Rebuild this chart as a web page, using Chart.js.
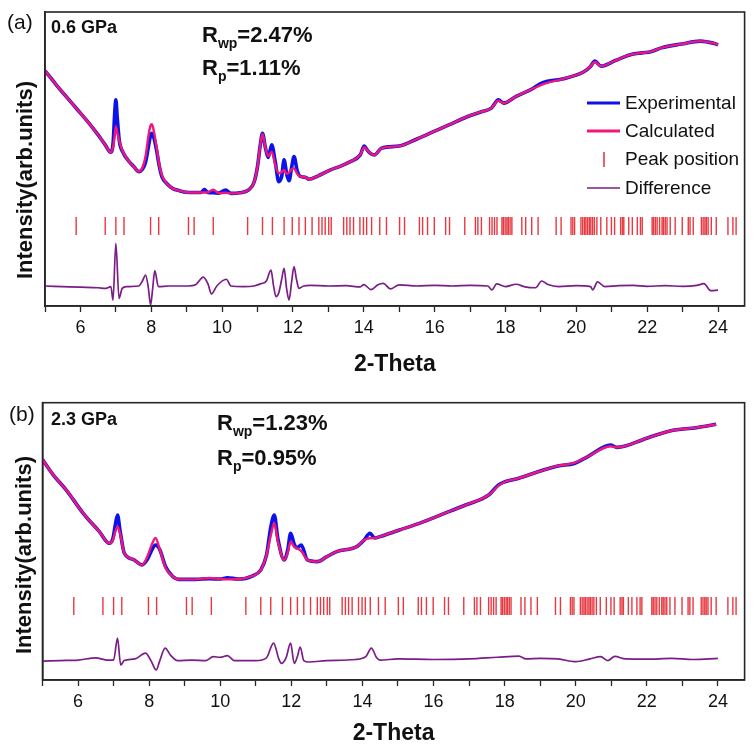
<!DOCTYPE html>
<html>
<head>
<meta charset="utf-8">
<script src="https://cdn.jsdelivr.net/npm/chart.js@4/dist/chart.umd.min.js"></script>
<style>
  body { margin: 0; background: #fff; width: 755px; height: 747px; position: relative; overflow: hidden; }
  .panel { position: absolute; left: 0; }
</style>
</head>
<body>
<div class="panel" style="top:0"><canvas id="chartA" width="755" height="378"></canvas></div>
<div class="panel" style="top:378px"><canvas id="chartB" width="755" height="369"></canvas></div>
<script>
// ---- panel (a), 0.6 GPa ----
const aTheta = [5.0, 5.3, 5.6, 5.9, 6.2, 6.5, 6.7, 6.85, 6.92, 6.97, 7.0, 7.04, 7.1, 7.2, 7.35, 7.5, 7.65, 7.75, 7.84, 7.91, 7.97, 8.02, 8.08, 8.15, 8.22, 8.3, 8.45, 8.6, 8.8, 9.0, 9.4, 9.5, 9.6, 9.75, 9.9, 10.1, 10.25, 10.5, 10.75, 10.9, 11.0, 11.08, 11.14, 11.22, 11.3, 11.4, 11.5, 11.6, 11.68, 11.75, 11.82, 11.89, 11.96, 12.03, 12.12, 12.22, 12.35, 12.45, 12.7, 13.06, 13.35, 13.62, 13.9, 14.01, 14.1, 14.2, 14.3, 14.5, 15.0, 15.5, 15.95, 16.4, 16.9, 17.3, 17.6, 17.8, 17.95, 18.3, 18.7, 19.05, 19.6, 20.2, 20.4, 20.52, 20.7, 21.1, 21.5, 21.85, 22.1, 22.4, 22.97, 23.5, 23.7, 23.9, 24.0];
const aExp   = [80.0, 75.5, 71.2, 67.0, 62.8, 58.2, 54.8, 52.3, 55.0, 66.0, 70.1, 64.0, 56.0, 52.3, 49.5, 47.5, 45.7, 46.5, 49.0, 53.5, 57.5, 58.7, 57.0, 53.0, 48.0, 44.0, 41.5, 40.0, 39.2, 38.7, 38.6, 39.6, 38.6, 38.5, 38.4, 39.4, 38.3, 38.5, 39.5, 42.0, 47.5, 55.0, 58.7, 54.0, 50.5, 54.8, 49.0, 42.3, 44.0, 49.7, 45.0, 42.6, 47.0, 50.8, 46.0, 44.0, 43.8, 43.1, 44.2, 46.3, 47.6, 49.1, 51.4, 54.4, 53.0, 51.8, 51.4, 53.7, 54.4, 56.8, 59.2, 61.6, 64.3, 66.0, 67.3, 70.1, 69.0, 71.3, 73.5, 76.0, 77.2, 79.6, 81.5, 83.3, 81.6, 83.5, 85.4, 86.1, 86.5, 87.8, 89.1, 90.1, 89.8, 89.3, 88.8];
const aCalc  = [80.0, 75.5, 71.2, 67.0, 62.8, 58.2, 54.8, 52.3, 54.0, 58.0, 61.0, 59.0, 56.0, 52.5, 49.5, 47.5, 45.7, 47.0, 51.0, 57.0, 61.0, 61.8, 59.0, 54.0, 48.5, 44.5, 41.5, 40.0, 39.2, 38.7, 38.6, 38.6, 38.7, 39.6, 38.4, 38.5, 38.3, 38.5, 39.5, 42.0, 47.5, 55.0, 58.5, 54.0, 51.0, 52.5, 48.0, 45.1, 45.5, 46.3, 45.0, 45.4, 46.5, 46.8, 45.0, 44.0, 43.8, 43.1, 44.2, 46.3, 47.6, 49.1, 51.4, 54.0, 53.0, 51.8, 51.4, 53.7, 54.4, 56.8, 59.2, 61.6, 64.3, 66.0, 67.3, 69.8, 69.0, 71.3, 73.5, 75.4, 77.2, 79.6, 81.5, 83.0, 81.6, 83.5, 85.4, 86.1, 86.5, 87.8, 89.1, 90.1, 89.8, 89.3, 88.8];
const aDiffTheta = [5.0, 5.5, 6.0, 6.5, 6.72, 6.86, 6.92, 7.0, 7.09, 7.18, 7.3, 7.65, 7.75, 7.84, 7.92, 7.98, 8.04, 8.1, 8.2, 8.5, 9.04, 9.25, 9.47, 9.6, 9.7, 9.85, 10.12, 10.25, 10.6, 10.9, 11.1, 11.25, 11.38, 11.45, 11.52, 11.6, 11.68, 11.75, 11.82, 11.89, 11.96, 12.03, 12.1, 12.17, 12.3, 12.5, 13.0, 13.5, 13.9, 14.0, 14.2, 14.4, 14.55, 14.75, 15.0, 15.5, 16.0, 16.5, 17.0, 17.5, 17.62, 17.75, 18.0, 18.3, 18.55, 18.85, 19.02, 19.2, 19.5, 20.0, 20.4, 20.46, 20.6, 20.8, 21.2, 21.6, 22.0, 22.5, 23.0, 23.4, 23.6, 23.8, 24.0];
const aDiff      = [6.8, 6.6, 6.4, 6.2, 6.0, 6.6, 2.0, 21.3, 2.6, 6.0, 6.6, 6.8, 8.5, 10.5, 6.0, 0.3, 6.0, 12.0, 6.6, 6.8, 6.8, 7.2, 9.8, 7.5, 4.1, 6.8, 9.1, 6.8, 6.6, 6.8, 7.6, 8.5, 12.2, 7.0, 3.2, 4.5, 9.0, 12.8, 6.0, 2.0, 8.0, 13.4, 9.0, 6.0, 6.8, 7.0, 6.8, 6.9, 6.5, 7.3, 5.6, 7.2, 7.7, 5.8, 7.2, 6.8, 7.0, 6.8, 7.0, 6.8, 5.5, 7.5, 6.6, 7.4, 6.5, 6.2, 8.5, 7.3, 6.6, 6.9, 6.6, 5.5, 8.2, 6.6, 6.9, 7.0, 6.7, 6.9, 6.7, 7.0, 7.6, 5.2, 5.4];

// ---- panel (b), 2.3 GPa ----
const bTheta = [5.0, 5.3, 5.67, 6.14, 6.6, 6.88, 6.98, 7.05, 7.11, 7.18, 7.3, 7.55, 7.8, 7.95, 8.08, 8.18, 8.3, 8.46, 8.65, 8.83, 9.3, 9.7, 10.0, 10.2, 10.5, 10.9, 11.14, 11.3, 11.42, 11.52, 11.62, 11.8, 11.9, 11.98, 12.08, 12.15, 12.28, 12.45, 12.73, 13.0, 13.28, 13.84, 14.05, 14.21, 14.35, 14.49, 15.04, 15.6, 16.43, 16.9, 17.55, 17.82, 18.01, 18.38, 18.94, 19.5, 19.96, 20.33, 20.98, 21.16, 22.0, 22.65, 23.39, 23.95];
const bExp   = [79.5, 74.0, 68.5, 60.2, 53.5, 49.3, 51.0, 56.0, 59.5, 54.0, 45.8, 43.5, 41.5, 43.5, 47.0, 48.7, 47.0, 40.9, 37.5, 36.3, 36.3, 36.5, 36.4, 36.9, 36.4, 37.5, 39.7, 45.0, 55.0, 59.5, 51.0, 43.3, 47.0, 52.9, 49.0, 47.6, 48.7, 43.3, 42.7, 44.5, 46.3, 48.1, 50.5, 52.9, 51.2, 51.7, 54.1, 56.5, 60.7, 63.1, 66.7, 70.3, 71.5, 72.7, 75.1, 77.2, 78.1, 80.5, 84.7, 83.9, 87.2, 89.8, 91.0, 92.2];
const bCalc  = [79.5, 74.0, 68.5, 60.2, 53.5, 49.3, 50.5, 53.5, 55.3, 53.0, 45.8, 43.5, 41.5, 44.5, 49.0, 51.2, 47.0, 40.5, 37.5, 36.3, 36.3, 36.8, 36.4, 36.3, 36.4, 37.5, 39.7, 45.0, 52.0, 56.6, 50.0, 43.3, 46.0, 49.9, 48.0, 47.6, 46.5, 43.3, 42.7, 44.5, 46.3, 48.1, 50.5, 51.1, 51.2, 51.7, 54.1, 56.5, 60.7, 63.1, 66.7, 70.0, 71.5, 72.7, 75.1, 77.2, 78.3, 80.5, 84.3, 83.9, 87.2, 89.8, 91.0, 92.2];
const bDiffTheta = [5.0, 5.5, 6.0, 6.5, 6.8, 7.0, 7.11, 7.2, 7.3, 7.6, 7.9, 8.05, 8.2, 8.3, 8.45, 8.6, 8.8, 9.2, 9.6, 9.8, 10.0, 10.2, 10.4, 11.0, 11.3, 11.5, 11.65, 11.72, 11.85, 11.98, 12.08, 12.17, 12.25, 12.35, 12.5, 13.0, 13.8, 14.1, 14.25, 14.4, 14.5, 15.0, 16.0, 17.0, 17.8, 18.4, 18.6, 19.0, 19.5, 20.0, 20.4, 20.7, 20.9, 21.1, 21.4, 22.0, 22.7, 23.3, 24.0];
const bDiff      = [6.8, 7.0, 7.2, 8.0, 7.2, 7.2, 15.1, 5.4, 7.0, 7.6, 9.7, 7.0, 3.6, 7.0, 11.5, 9.0, 7.0, 7.2, 7.0, 8.4, 8.2, 8.8, 7.0, 7.0, 8.0, 13.3, 7.5, 6.0, 8.0, 13.3, 6.0, 8.5, 11.9, 7.0, 6.5, 7.0, 7.4, 8.5, 11.5, 8.0, 7.2, 7.6, 7.4, 7.6, 8.2, 8.6, 7.6, 7.8, 7.6, 6.6, 7.6, 8.4, 7.0, 8.5, 7.6, 7.5, 7.8, 7.4, 7.8];

// ---- Bragg peak positions (same set drawn in both panels) ----
const peakPos = [5.88, 6.70, 7.00, 7.23, 7.98, 8.21, 9.05, 9.21, 9.75, 10.72, 11.14, 11.42, 11.75, 11.98, 12.17, 12.35, 12.54, 12.73, 12.82, 12.91, 13.01, 13.08, 13.43, 13.52, 13.61, 13.71, 13.89, 13.99, 14.08, 14.22, 14.45, 14.64, 15.01, 15.15, 15.57, 15.66, 15.80, 15.99, 16.31, 16.42, 16.85, 17.15, 17.22, 17.32, 17.55, 17.62, 17.69, 17.76, 17.90, 17.94, 17.99, 18.04, 18.08, 18.13, 18.18, 18.46, 18.57, 18.74, 18.92, 19.43, 19.57, 19.85, 19.90, 19.95, 20.13, 20.18, 20.23, 20.27, 20.32, 20.37, 20.41, 20.46, 20.51, 20.58, 20.69, 20.86, 20.99, 21.08, 21.25, 21.30, 21.34, 21.48, 21.58, 21.72, 21.81, 21.86, 22.14, 22.18, 22.23, 22.28, 22.35, 22.42, 22.46, 22.51, 22.56, 22.65, 22.79, 22.99, 23.16, 23.21, 23.30, 23.53, 23.58, 23.63, 23.67, 23.72, 23.81, 23.95, 24.28, 24.42, 24.51];
const aPeakLevel = 27.2;
const bPeakLevel = 26.7;

const seriesNames = ['Experimental', 'Calculated', 'Peak position', 'Difference'];
const FONT = '"Liberation Sans", Arial, sans-serif';
const BLUE = '#0d12e8', PINK = '#f2167a', RED = 'rgba(226,22,32,0.85)', PURPLE = '#7a1d86';

const toXY = (xs, ys) => xs.map((x, i) => ({ x, y: ys[i] }));

// frame, panel labels, R factors, y title and (optionally) legend
const decorations = {
  id: 'decorations',
  afterDraw(chart, args, o) {
    const { ctx, chartArea: a } = chart;
    ctx.save();
    ctx.strokeStyle = '#262626';
    ctx.lineWidth = 1.6;
    ctx.strokeRect(a.left, a.top, a.right - a.left, a.bottom - a.top);

    ctx.fillStyle = '#111';
    ctx.textBaseline = 'alphabetic';
    ctx.textAlign = 'left';
    ctx.font = '21px ' + FONT;
    ctx.fillText(o.tag, o.tagX, o.tagY);
    ctx.font = 'bold 18px ' + FONT;
    ctx.fillText(o.pressure, 51, o.pressY);

    const drawR = (y, sub, rest) => {
      let x = o.rX;
      ctx.font = 'bold 22px ' + FONT;
      ctx.fillText('R', x, y);
      x += ctx.measureText('R').width;
      ctx.font = 'bold 14px ' + FONT;
      ctx.fillText(sub, x, y + 6);
      x += ctx.measureText(sub).width;
      ctx.font = 'bold 22px ' + FONT;
      ctx.fillText(rest, x, y);
    };
    drawR(o.rwpY, 'wp', o.rwp);
    drawR(o.rpY, 'p', o.rp);

    // y axis title
    ctx.save();
    ctx.translate(o.yTitleX, o.yTitleY);
    ctx.rotate(-Math.PI / 2);
    ctx.textAlign = 'center';
    ctx.textBaseline = 'middle';
    ctx.font = 'bold 22px ' + FONT;
    ctx.fillText('Intensity(arb.units)', 0, 0);
    ctx.restore();

    if (o.legend) {
      const rows = [103, 131, 159, 188];
      ctx.font = '19px ' + FONT;
      rows.forEach((y, i) => {
        ctx.beginPath();
        if (i === 2) {
          ctx.strokeStyle = RED; ctx.lineWidth = 1.6;
          ctx.moveTo(604, y - 7); ctx.lineTo(604, y + 8);
        } else {
          ctx.strokeStyle = [BLUE, PINK, null, PURPLE][i];
          ctx.lineWidth = i === 3 ? 1.5 : 3;
          ctx.moveTo(587, y); ctx.lineTo(620, y);
        }
        ctx.stroke();
        ctx.fillStyle = '#111';
        ctx.fillText(seriesNames[i], 625, y + 6);
      });
    }
    ctx.restore();
  }
};

function makeChart(id, cfg) {
  return new Chart(document.getElementById(id), {
    type: 'line',
    data: {
      datasets: [
        { label: seriesNames[1], data: toXY(cfg.theta, cfg.calc), borderColor: PINK, borderWidth: 2.4,
          pointRadius: 0, cubicInterpolationMode: 'monotone', order: 1 },
        { label: seriesNames[0], data: toXY(cfg.theta, cfg.exp), borderColor: BLUE, borderWidth: 3.6,
          pointRadius: 0, cubicInterpolationMode: 'monotone', order: 2 },
        { label: seriesNames[2], data: peakPos.map(x => ({ x, y: cfg.peakLevel })), showLine: false,
          pointStyle: 'line', pointRotation: 90, pointRadius: 9, pointBorderColor: RED,
          pointBorderWidth: 1.4, order: 3 },
        { label: seriesNames[3], data: toXY(cfg.diffTheta, cfg.diff), borderColor: PURPLE, borderWidth: 1.7,
          pointRadius: 0, cubicInterpolationMode: 'monotone', order: 0 }
      ]
    },
    options: {
      responsive: false,
      animation: false,
      events: [],
      layout: { padding: { top: cfg.top, right: 3, left: 0, bottom: 0 } },
      scales: {
        x: {
          type: 'linear', min: 5, max: 24.75,
          afterFit: s => { s.height = cfg.xHeight; },
          ticks: { stepSize: 1, includeBounds: false, autoSkip: false, maxRotation: 0, padding: 5,
                   color: '#111', font: { family: FONT, size: 18 },
                   callback: v => (v % 2 === 0 ? v : '') },
          grid: { drawOnChartArea: false, tickLength: 6, color: '#262626', tickWidth: 1.3 },
          border: { color: '#262626', width: 1.6 },
          title: { display: true, text: '2-Theta', color: '#111', padding: 0,
                   font: { family: FONT, size: 23, weight: 'bold' } }
        },
        y: {
          min: 0, max: 100,
          afterFit: s => { s.width = cfg.left; },
          ticks: { display: false },
          grid: { display: false },
          border: { color: '#262626', width: 1.6 }
        }
      },
      plugins: {
        legend: { display: false },
        tooltip: { enabled: false },
        decorations: cfg.deco
      }
    },
    plugins: [decorations]
  });
}

makeChart('chartA', {
  theta: aTheta, exp: aExp, calc: aCalc, diffTheta: aDiffTheta, diff: aDiff, peakLevel: aPeakLevel,
  top: 12, left: 45, xHeight: 72,
  deco: { tag: '(a)', tagX: 7, tagY: 29, pressure: '0.6 GPa', pressY: 33, rX: 202, rwpY: 42, rpY: 75,
          rwp: '=2.47%', rp: '=1.11%', yTitleX: 26, yTitleY: 180, legend: true }
});

makeChart('chartB', {
  theta: bTheta, exp: bExp, calc: bCalc, diffTheta: bDiffTheta, diff: bDiff, peakLevel: bPeakLevel,
  top: 24.7, left: 42.5, xHeight: 67,
  deco: { tag: '(b)', tagX: 9, tagY: 43, pressure: '2.3 GPa', pressY: 47, rX: 217, rwpY: 52, rpY: 87,
          rwp: '=1.23%', rp: '=0.95%', yTitleX: 25, yTitleY: 177, legend: false }
});
</script>
</body>
</html>
